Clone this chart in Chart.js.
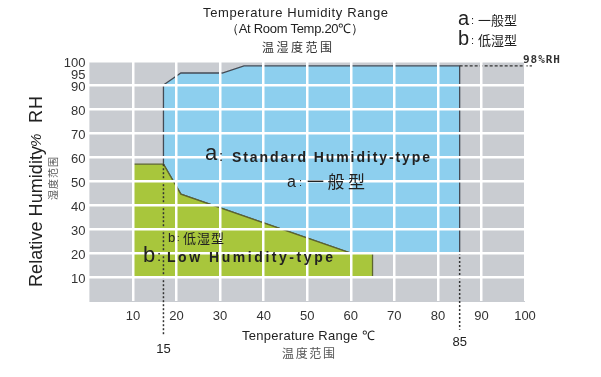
<!DOCTYPE html>
<html lang="zh">
<head>
<meta charset="UTF-8" />
<title>Temperature Humidity Range</title>
<script src="https://cdn.jsdelivr.net/npm/chart.js"></script>
<style>
  body { margin: 0; background: #fff; }
  .chart-box { position: relative; width: 601px; height: 377px; }
</style>
</head>
<body>
<div class="chart-box"><canvas id="rangeChart"></canvas></div>
<script>
// axis ticks
const tempTicks = [10, 20, 30, 40, 50, 60, 70, 80, 90, 100];
const humTicks = [10, 20, 30, 40, 50, 60, 70, 80, 90, 95, 100];

// a: standard humidity-type outline (temperature, %RH)
const standardTemp = [17, 21, 30.5, 35.5, 85, 85, 60, 21, 17, 17];
const standardHum = [90, 95, 95, 98, 98, 20, 20, 44.5, 57, 90];

// b: low humidity-type outline
const lowTemp = [10, 17, 21, 60, 65, 65, 10, 10];
const lowHum = [57, 57, 44.5, 20, 20, 10, 10, 57];

// dotted guides under the axis
const guideTemp = [17, 85];
const guideLabel = ['15', '85'];
const guideTop = [57, 20];
const guideBottom = [-14, -12];

// 98%RH marker
const rhLimit = 98;
const rhLineTemp = [85, 101.6];

const pts = (xs, ys) => xs.map((x, i) => ({ x: x, y: ys[i] }));

const SANS = '"Liberation Sans", Arial, sans-serif';
const CJK = '"Noto Sans CJK SC", sans-serif';

function put(ctx, text, x, y, font, color, width) {
  ctx.save();
  ctx.font = font;
  ctx.fillStyle = color;
  ctx.textAlign = 'left';
  ctx.textBaseline = 'alphabetic';
  if (width) {
    const w = ctx.measureText(text).width;
    const n = Array.from(text).length;
    if (n > 1) ctx.letterSpacing = ((width - w) / (n - 1)).toFixed(2) + 'px';
  }
  ctx.fillText(text, x, y);
  ctx.restore();
}

const plotBg = {
  id: 'plotBg',
  beforeDraw(chart) {
    const { ctx, chartArea: a } = chart;
    ctx.save();
    ctx.fillStyle = '#c9ccd1';
    ctx.fillRect(a.left, a.top, a.right - a.left, a.bottom - a.top + 1);
    ctx.restore();
  }
};

const labels = {
  id: 'labels',
  afterDraw(chart) {
    const ctx = chart.ctx;
    const xs = chart.scales.x;
    const ys = chart.scales.y;

    // title
    put(ctx, 'Temperature Humidity Range', 203, 17, '13px ' + SANS, '#222', 185);
    put(ctx, '（At Room Temp.20℃）', 226, 33, '13px ' + SANS, '#222', 138);
    put(ctx, '温湿度范围', 262, 52, '12px ' + CJK, '#333', 70);

    // key
    put(ctx, 'a', 458, 25, '20px ' + SANS, '#222');
    put(ctx, ':', 471, 24, '11px ' + SANS, '#222');
    put(ctx, '一般型', 478, 25, '13px ' + CJK, '#222', 39);
    put(ctx, 'b', 458, 45, '20px ' + SANS, '#222');
    put(ctx, ':', 471, 44, '11px ' + SANS, '#222');
    put(ctx, '低湿型', 478, 45, '13px ' + CJK, '#222', 39);

    // 98%RH
    put(ctx, rhLimit + '%RH', xs.getPixelForValue(rhLineTemp[1]) - 9, ys.getPixelForValue(rhLimit) - 3,
      'bold 11px "DejaVu Sans Mono", monospace', '#333', 37);

    // y axis title
    ctx.save();
    ctx.translate(42, 287);
    ctx.rotate(-Math.PI / 2);
    put(ctx, 'Relative Humidity', 0, 0, '18px ' + SANS, '#222', 141);
    put(ctx, '%', 140, -1, 'italic 15px ' + SANS, '#222');
    put(ctx, 'RH', 164, 0, '18px ' + SANS, '#222', 27);
    ctx.restore();
    ctx.save();
    ctx.translate(57, 200);
    ctx.rotate(-Math.PI / 2);
    put(ctx, '湿度范围', 0, 0, '10px ' + CJK, '#555', 43);
    ctx.restore();

    // x axis title
    put(ctx, 'Tenperature Range ℃', 242, 340, '13px ' + SANS, '#222', 133);
    put(ctx, '温度范围', 282, 358, '12px ' + CJK, '#555', 53);

    // guide values
    ctx.save();
    ctx.font = '13px ' + SANS;
    ctx.fillStyle = '#222';
    ctx.textAlign = 'center';
    ctx.fillText(guideLabel[0], xs.getPixelForValue(guideTemp[0]), 353);
    ctx.fillText(guideLabel[1], xs.getPixelForValue(guideTemp[1]), 346);
    ctx.restore();

    // region labels
    put(ctx, 'a', 205, 160, '22px ' + SANS, '#222');
    put(ctx, ':', 219, 161, '15px ' + SANS, '#222');
    put(ctx, 'Standard Humidity-type', 232, 162, 'bold 14px ' + SANS, '#222', 198);
    put(ctx, 'a', 287, 187, '16px ' + SANS, '#222');
    put(ctx, ':', 299, 186, '11px ' + SANS, '#222');
    put(ctx, '一般型', 307, 188, '17px ' + CJK, '#222', 58);
    put(ctx, 'b', 168, 242, '13px ' + SANS, '#222');
    put(ctx, ':', 177, 241, '9px ' + SANS, '#222');
    put(ctx, '低湿型', 183, 243, '13px ' + CJK, '#222', 41);
    put(ctx, 'b', 143, 262, '22px ' + SANS, '#222');
    put(ctx, ':', 157, 261, '15px ' + SANS, '#222');
    put(ctx, 'Low Humidity-type', 167, 262, 'bold 14px ' + SANS, '#222', 166);
  }
};

const ctx = document.getElementById('rangeChart').getContext('2d');

const chart = new Chart(ctx, {
  type: 'scatter',
  data: {
    datasets: [
      {
        data: pts([guideTemp[0], guideTemp[0]], [guideTop[0], guideBottom[0]]),
        showLine: true, borderColor: '#333', borderWidth: 1.5, borderDash: [2, 2],
        pointRadius: 0, fill: false, clip: false
      },
      {
        data: pts([guideTemp[1], guideTemp[1]], [guideTop[1], guideBottom[1]]),
        showLine: true, borderColor: '#333', borderWidth: 1.5, borderDash: [2, 2],
        pointRadius: 0, fill: false, clip: false
      },
      {
        data: pts(rhLineTemp, [rhLimit, rhLimit]),
        showLine: true, borderColor: '#333', borderWidth: 1.2, borderDash: [3, 2],
        pointRadius: 0, fill: false, clip: false
      },
      {
        label: 'b: Low Humidity-type',
        data: pts(lowTemp, lowHum),
        showLine: true, borderColor: '#5c6430', borderWidth: 1.3,
        backgroundColor: '#a8c63c', pointRadius: 0, fill: 'shape'
      },
      {
        label: 'a: Standard Humidity-type',
        data: pts(standardTemp, standardHum),
        showLine: true, borderColor: '#444b55', borderWidth: 1.3,
        backgroundColor: '#8dcfee', pointRadius: 0, fill: 'shape'
      }
    ]
  },
  options: {
    responsive: true,
    maintainAspectRatio: false,
    animation: false,
    layout: { padding: { top: 61, right: 76, bottom: 0, left: 0 } },
    plugins: { legend: { display: false }, tooltip: { enabled: false } },
    scales: {
      x: {
        type: 'linear', min: 0, max: 100, z: 1,
        afterBuildTicks: (s) => { s.ticks = tempTicks.map((v) => ({ value: v })); },
        afterFit: (s) => { s.height = 76; s.paddingLeft = 0; s.paddingRight = 0; },
        grid: { color: '#fff', lineWidth: 2.5, drawTicks: false, z: 1 },
        border: { display: false },
        ticks: { color: '#333', font: { family: SANS, size: 13 }, padding: 8, maxRotation: 0, autoSkip: false }
      },
      y: {
        type: 'linear', min: 0, max: 100, z: 1,
        afterBuildTicks: (s) => { s.ticks = humTicks.map((v) => ({ value: v })); },
        afterFit: (s) => { s.width = 89.4; s.paddingTop = 0; s.paddingBottom = 0; },
        grid: {
          color: (c) => (c.tick && c.tick.value % 10 !== 0 ? 'rgba(0,0,0,0)' : '#fff'),
          lineWidth: 2.5, drawTicks: false, z: 1
        },
        border: { display: false },
        ticks: { color: '#333', font: { family: SANS, size: 13 }, padding: 4, autoSkip: false, labelOffset: 2 }
      }
    }
  },
  plugins: [plotBg, labels]
});
</script>
</body>
</html>
